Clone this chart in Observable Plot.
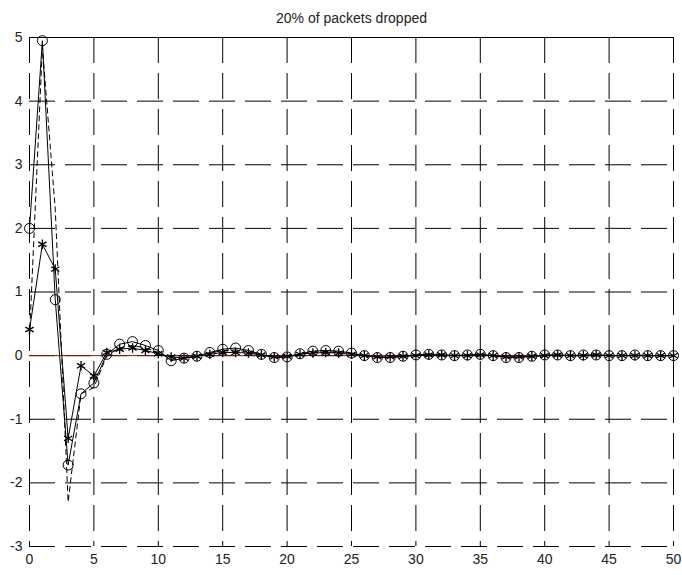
<!DOCTYPE html>
<html>
<head>
<meta charset="utf-8">
<script src="https://cdn.jsdelivr.net/npm/d3@7"></script>
<script src="https://cdn.jsdelivr.net/npm/@observablehq/plot@0.6"></script>
<style>
  html, body { margin: 0; padding: 0; background: #fff; }
  #chart svg { display: block; }
</style>
</head>
<body>
<div id="chart"></div>
<script>
const title = "20% of packets dropped";
const steps = d3.range(0, 51);
const xTicks = [0, 5, 10, 15, 20, 25, 30, 35, 40, 45, 50];
const yTicks = [-3, -2, -1, 0, 1, 2, 3, 4, 5];

const circleSeries = [2.0, 4.95, 0.88, -1.72, -0.6, -0.43, 0.02, 0.18, 0.22, 0.16,
  0.08, -0.08, -0.04, -0.01, 0.05, 0.1, 0.12, 0.08, 0.02, -0.03,
  -0.02, 0.03, 0.07, 0.08, 0.07, 0.04, 0.0, -0.03, -0.03, -0.01,
  0.01, 0.02, 0.01, 0.0, 0.01, 0.02, 0.0, -0.03, -0.03, -0.01,
  0.01, 0.01, 0.0, 0.01, 0.01, 0.0, 0.0, 0.01, 0.0, 0.0, 0.0];

const starSeries = [0.41, 1.75, 1.36, -1.3, -0.16, -0.32, 0.05, 0.1, 0.12, 0.08,
  0.03, -0.02, -0.04, -0.01, 0.02, 0.05, 0.05, 0.04, 0.01, -0.02,
  -0.01, 0.02, 0.04, 0.05, 0.04, 0.02, 0.0, -0.02, -0.02, -0.01,
  0.0, 0.01, 0.01, 0.0, 0.0, 0.01, 0.0, -0.02, -0.02, -0.01,
  0.0, 0.01, 0.0, 0.0, 0.01, 0.0, 0.0, 0.0, 0.0, 0.0, 0.0];

const dashedSeries = [0.3, 4.85, 2.3, -2.3, -0.6, -0.5, 0.0, 0.12, 0.16, 0.12,
  0.05, -0.06, -0.04, -0.01, 0.04, 0.08, 0.09, 0.06, 0.01, -0.03,
  -0.02, 0.02, 0.05, 0.06, 0.05, 0.03, 0.0, -0.02, -0.03, -0.01,
  0.01, 0.02, 0.01, 0.0, 0.01, 0.01, 0.0, -0.02, -0.02, -0.01,
  0.0, 0.01, 0.0, 0.0, 0.01, 0.0, 0.0, 0.0, 0.0, 0.0, 0.0];

const referenceSeries = steps.map(() => 0);

const circ = steps.map((k, i) => ({k, v: circleSeries[i]}));
const star = steps.map((k, i) => ({k, v: starSeries[i]}));
const dash = steps.map((k, i) => ({k, v: dashedSeries[i]}));
const ref = steps.map((k, i) => ({k, v: referenceSeries[i]}));

const chart = Plot.plot({
  width: 682,
  height: 575,
  marginLeft: 29,
  marginRight: 9,
  marginTop: 37,
  marginBottom: 29,
  style: {fontFamily: "'Liberation Sans', Arial, sans-serif", fontSize: "14px", color: "#222", background: "#fff"},
  x: {domain: [0, 50], ticks: xTicks, tickSize: 0, tickPadding: 8, tickFormat: d => String(d), label: null},
  y: {domain: [-3, 5], ticks: yTicks, tickSize: 0, tickPadding: 7, tickFormat: d => String(d), label: null},
  marks: [
    Plot.gridX(xTicks, {stroke: "#000", strokeOpacity: 1, strokeDasharray: "26,10"}),
    Plot.gridY(yTicks, {stroke: "#000", strokeOpacity: 1, strokeDasharray: "26,10"}),
    Plot.ruleY([5], {stroke: "#000", strokeWidth: 1}),
    Plot.line(ref, {x: "k", y: "v", stroke: "#8a1010", strokeWidth: 1}),
    Plot.line(dash, {x: "k", y: "v", stroke: "#000", strokeWidth: 1, strokeDasharray: "5,4"}),
    Plot.line(circ, {x: "k", y: "v", stroke: "#000", strokeWidth: 1}),
    Plot.line(star, {x: "k", y: "v", stroke: "#000", strokeWidth: 1}),
    Plot.dot(circ, {x: "k", y: "v", r: 5, stroke: "#000", strokeWidth: 1, fill: "none"}),
    Plot.dot(star, {x: "k", y: "v", symbol: "asterisk", r: 4.5, stroke: "#000", strokeWidth: 1.3}),
    Plot.text([title], {frameAnchor: "top", dy: -24, fontSize: 14, fill: "#222"})
  ]
});
document.getElementById("chart").appendChild(chart);
</script>
</body>
</html>
